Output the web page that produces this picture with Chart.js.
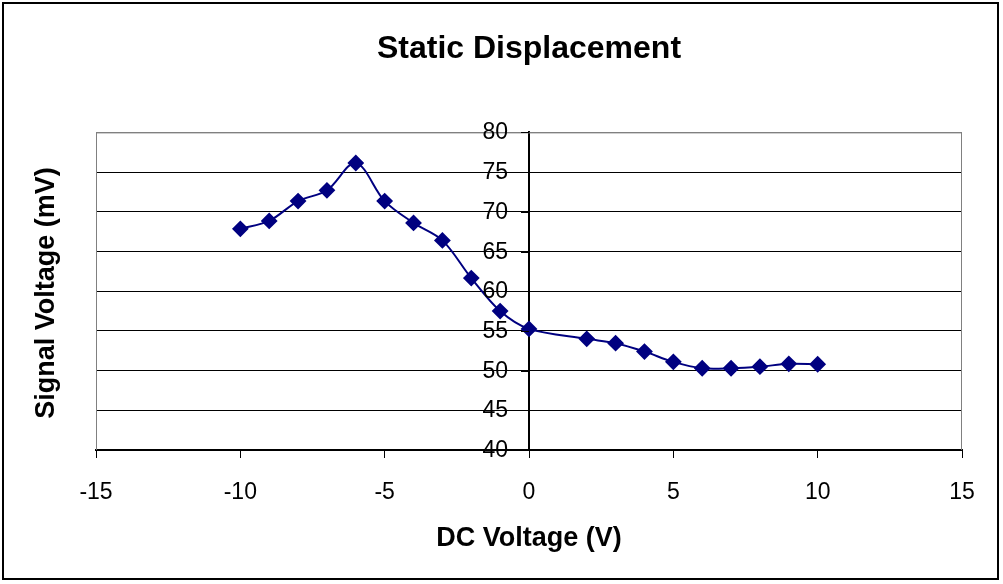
<!DOCTYPE html>
<html>
<head>
<meta charset="utf-8">
<script src="https://cdn.jsdelivr.net/npm/chart.js@4"></script>
<style>
  html, body { margin: 0; padding: 0; background: #fff; }
  #wrap { width: 1003px; height: 584px; }
</style>
</head>
<body>
<div id="wrap"><canvas id="chart" width="1003" height="584"></canvas></div>
<script>
// data
var dcVoltage = [-10, -9, -8, -7, -6, -5, -4, -3, -2, -1, 0, 2, 3, 4, 5, 6, 7, 8, 9, 10];
var signalVoltage = [67.85, 68.85, 71.35, 72.7, 76.15, 71.35, 68.6, 66.4, 61.65, 57.5, 55.25,
                     54.0, 53.45, 52.4, 51.1, 50.3, 50.3, 50.5, 50.85, 50.8];
var xTicks = [-15, -10, -5, 0, 5, 10, 15];
var yTicks = [40, 45, 50, 55, 60, 65, 70, 75, 80];

var fontName = '"Liberation Sans", Arial, sans-serif';

// outer frame, plot border, y labels at the x=0 axis and rotated y title
var decorations = {
    id: 'decorations',
    beforeDatasetsDraw: function (chart) {
        var ctx = chart.ctx;
        var a = chart.chartArea;
        ctx.save();
        ctx.strokeStyle = '#808080';
        ctx.lineWidth = 1;
        ctx.beginPath();
        ctx.moveTo(a.left + 0.5, a.bottom);
        ctx.lineTo(a.left + 0.5, a.top + 0.5);
        ctx.lineTo(a.right - 0.5, a.top + 0.5);
        ctx.lineTo(a.right - 0.5, a.bottom);
        ctx.stroke();
        ctx.restore();
    },
    afterDraw: function (chart) {
        var ctx = chart.ctx;
        var xs = chart.scales.x;
        var ys = chart.scales.y;
        var x0 = Math.round(xs.getPixelForValue(0));
        ctx.save();
        // y tick marks and labels
        ctx.strokeStyle = '#000';
        ctx.lineWidth = 1;
        ctx.fillStyle = '#000';
        ctx.font = '23px ' + fontName;
        ctx.textAlign = 'right';
        ctx.textBaseline = 'middle';
        yTicks.forEach(function (v) {
            var py = Math.round(ys.getPixelForValue(v)) + 0.5;
            ctx.beginPath();
            ctx.moveTo(x0 - 8, py);
            ctx.lineTo(x0, py);
            ctx.stroke();
            ctx.fillText(String(v), x0 - 21, py);
        });
        // outer frame
        ctx.lineWidth = 2;
        ctx.strokeRect(3, 3, 995, 576);
        // y title
        ctx.translate(47, 293);
        ctx.rotate(-Math.PI / 2);
        ctx.font = 'bold 27px ' + fontName;
        ctx.textAlign = 'center';
        ctx.fillText('Signal Voltage (mV)', 0, 0);
        ctx.restore();
    }
};

var ctx = document.getElementById('chart').getContext('2d');
new Chart(ctx, {
    type: 'scatter',
    data: {
        datasets: [{
            label: 'Signal Voltage',
            data: dcVoltage.map(function (x, i) { return { x: x, y: signalVoltage[i] }; }),
            showLine: true,
            tension: 0.33,
            borderColor: '#000080',
            backgroundColor: '#000080',
            borderWidth: 2,
            pointStyle: 'rectRot',
            pointRadius: 7,
            pointHoverRadius: 7
        }]
    },
    options: {
        responsive: false,
        animation: false,
        layout: {
            padding: { left: 96, right: 41, top: 0, bottom: 0 }
        },
        plugins: {
            legend: { display: false },
            tooltip: { enabled: false },
            title: {
                display: true,
                text: 'Static Displacement',
                color: '#000',
                font: { family: fontName, size: 32, weight: 'bold' },
                padding: { top: 30, bottom: 64 }
            }
        },
        scales: {
            x: {
                type: 'linear',
                position: 'bottom',
                min: -15,
                max: 15,
                afterBuildTicks: function (scale) {
                    scale.ticks = xTicks.map(function (v) { return { value: v }; });
                },
                afterFit: function (scale) {
                    scale.height = 134;
                },
                grid: {
                    drawOnChartArea: false,
                    drawTicks: true,
                    tickLength: 8,
                    color: '#000'
                },
                border: { color: '#000', width: 2 },
                ticks: {
                    color: '#000',
                    padding: 21,
                    maxRotation: 0,
                    font: { family: fontName, size: 23 }
                },
                title: {
                    display: true,
                    text: 'DC Voltage (V)',
                    color: '#000',
                    font: { family: fontName, size: 27, weight: 'bold' },
                    padding: { top: 17, bottom: 29 }
                }
            },
            y: {
                type: 'linear',
                position: { x: 0 },
                min: 40,
                max: 80,
                afterBuildTicks: function (scale) {
                    scale.ticks = yTicks.map(function (v) { return { value: v }; });
                },
                grid: {
                    drawOnChartArea: true,
                    drawTicks: false,
                    lineWidth: 1,
                    color: function (c) {
                        return c.tick && c.tick.value === 80 ? '#808080' : '#000';
                    }
                },
                border: { color: '#000', width: 2 },
                ticks: { display: false }
            }
        }
    },
    plugins: [decorations]
});
</script>
</body>
</html>
